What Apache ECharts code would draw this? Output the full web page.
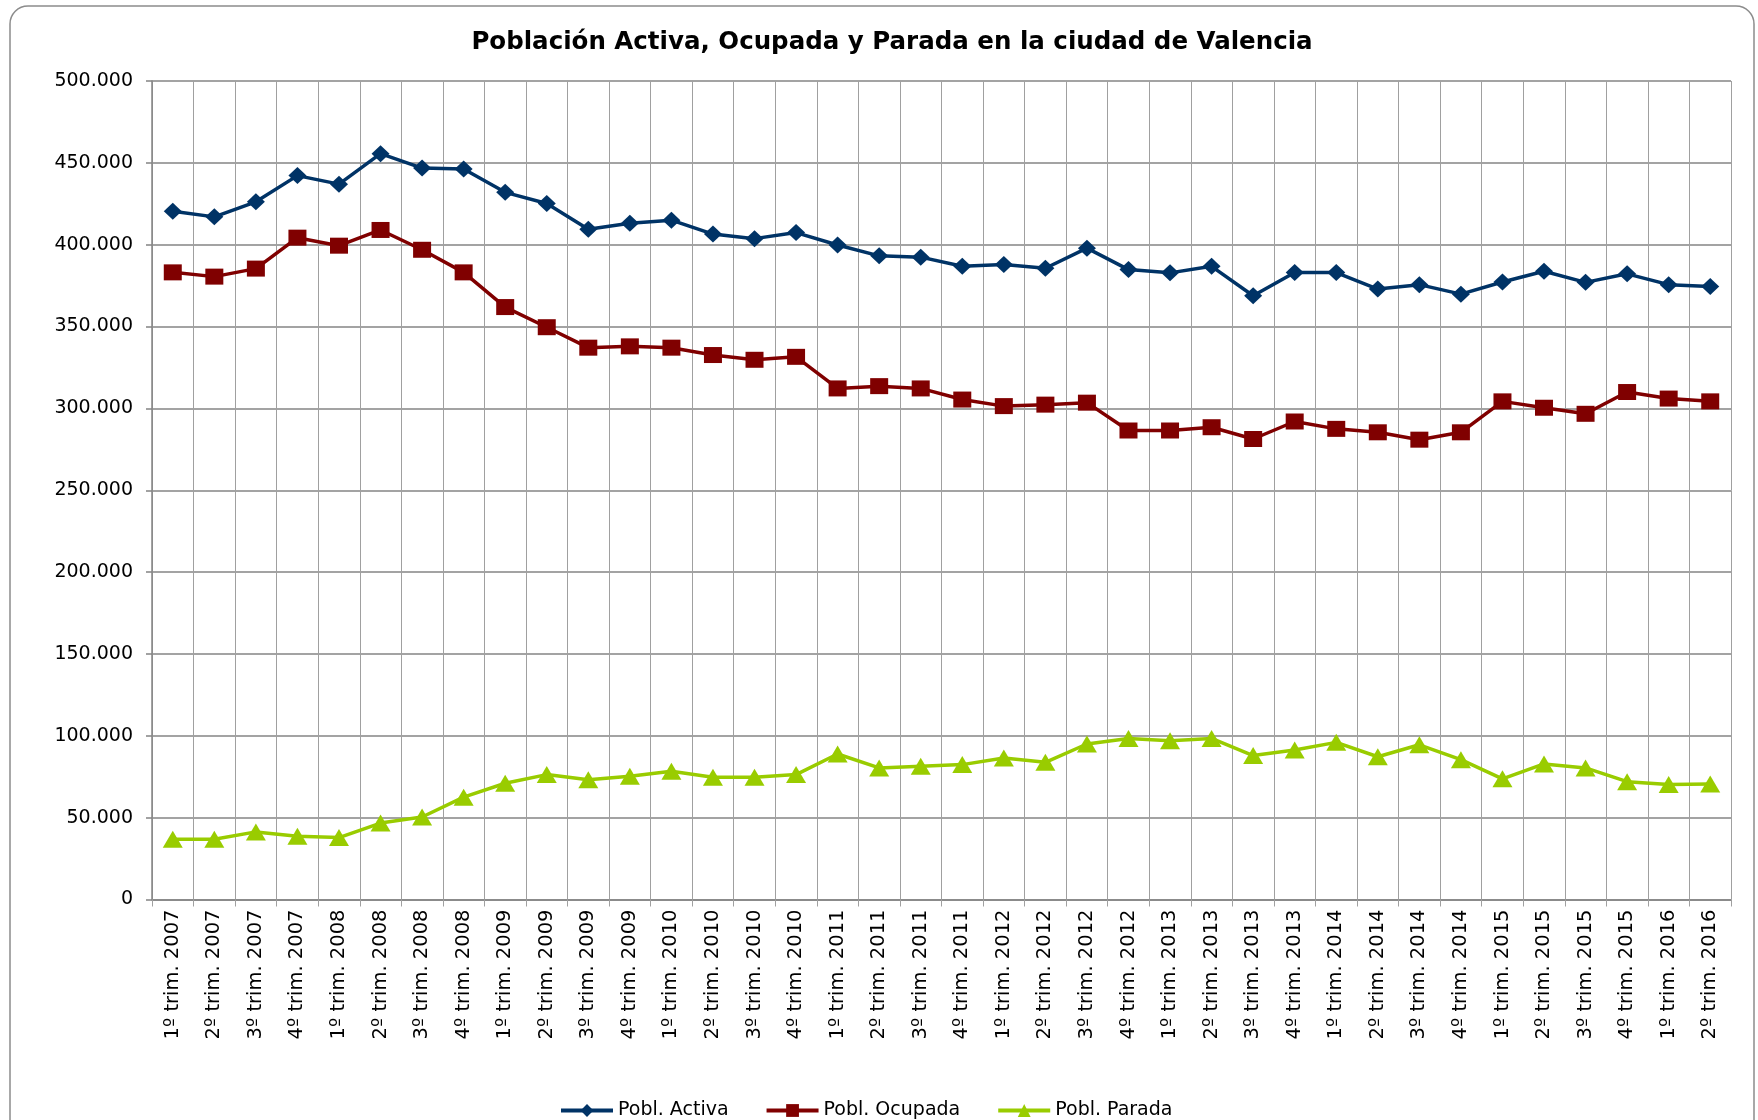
<!DOCTYPE html>
<html>
<head>
<meta charset="utf-8">
<script src="https://cdn.jsdelivr.net/npm/echarts@6/dist/echarts.min.js"></script>
<style>
html,body{margin:0;padding:0;background:#fff;}
#chart{width:1758px;height:1120px;}
</style>
</head>
<body>
<div id="chart"></div>
<script>
const categories = [
  "1º trim. 2007","2º trim. 2007","3º trim. 2007","4º trim. 2007",
  "1º trim. 2008","2º trim. 2008","3º trim. 2008","4º trim. 2008",
  "1º trim. 2009","2º trim. 2009","3º trim. 2009","4º trim. 2009",
  "1º trim. 2010","2º trim. 2010","3º trim. 2010","4º trim. 2010",
  "1º trim. 2011","2º trim. 2011","3º trim. 2011","4º trim. 2011",
  "1º trim. 2012","2º trim. 2012","3º trim. 2012","4º trim. 2012",
  "1º trim. 2013","2º trim. 2013","3º trim. 2013","4º trim. 2013",
  "1º trim. 2014","2º trim. 2014","3º trim. 2014","4º trim. 2014",
  "1º trim. 2015","2º trim. 2015","3º trim. 2015","4º trim. 2015",
  "1º trim. 2016","2º trim. 2016"
];
const poblActiva = [
  420500,417000,426200,442200,437000,455600,446800,446200,
  432000,425200,409400,413100,415000,406500,403700,407400,
  399800,393200,392400,386800,387900,385600,397900,384800,
  382800,386800,368800,383000,383000,372900,375600,369800,
  377200,383800,377000,382200,375600,374500
];
const poblOcupada = [
  383100,380500,385400,404300,399400,409000,396900,383100,
  361900,349600,337100,337900,337100,332600,329700,331500,
  312200,313600,312200,305400,301400,302300,303500,286500,
  286500,288500,281300,292000,287500,285400,280900,285400,
  304300,300400,296700,310000,306000,304300
];
const poblParada = [
  36800,36800,41300,38600,37800,46700,50400,62500,
  71000,76300,73100,75300,78300,74700,74700,76300,
  88900,80400,81400,82400,86500,83800,95000,98400,
  97000,98400,87900,91300,96000,87200,94500,85400,
  73700,82800,80400,72000,70200,70600
];
const yTicks = { min: 0, max: 500000, interval: 50000 };
const seriesNames = ["Pobl. Activa", "Pobl. Ocupada", "Pobl. Parada"];

const FONT = "DejaVu Sans";
const GRID_H = "#848484";
const GRID_V = "#a0a0a0";

function fmt(v){
  return String(v).replace(/\B(?=(\d{3})+(?!\d))/g, ".");
}

const chart = echarts.init(document.getElementById('chart'), null, {renderer:'canvas'});
chart.setOption({
  backgroundColor: '#ffffff',
  animation: false,
  graphic: [{
    type: 'rect',
    shape: { x: 10, y: 6, width: 1744, height: 1300, r: 18 },
    style: { fill: 'none', stroke: '#8c8c8c', lineWidth: 1.5 },
    silent: true, z: -1
  }],
  title: {
    text: 'Población Activa, Ocupada y Parada en la ciudad de Valencia',
    left: 887, textAlign: 'center', top: 25,
    textStyle: { fontFamily: FONT, fontWeight: 'bold', fontSize: 24.5, color: '#000' }
  },
  legend: {
    data: seriesNames,
    left: 554, top: 1096,
    itemWidth: 52, itemHeight: 16, itemGap: 36,
    lineStyle: { width: 4 },
    textStyle: { fontFamily: FONT, fontSize: 19, color: '#000' }
  },
  grid: { left: 152, right: 27, top: 81, bottom: 220.5, containLabel: false },
  xAxis: {
    type: 'category',
    data: categories,
    boundaryGap: true,
    axisLine: { show: true, lineStyle: { color: GRID_H, width: 1.5 } },
    axisTick: { show: true, length: 7, interval: 0, lineStyle: { color: GRID_V, width: 1 } },
    axisLabel: { interval: 0, rotate: 90, margin: 10, fontFamily: FONT, fontSize: 19.5, color: '#000' },
    splitLine: { show: true, interval: 0, lineStyle: { color: GRID_V, width: 1 } }
  },
  yAxis: {
    type: 'value',
    min: yTicks.min, max: yTicks.max, interval: yTicks.interval,
    axisLine: { show: true, lineStyle: { color: GRID_H, width: 1.5 } },
    axisTick: { show: true, length: 6, lineStyle: { color: GRID_H, width: 1.5 } },
    axisLabel: { margin: 19, fontFamily: FONT, fontSize: 19, color: '#000', formatter: fmt },
    splitLine: { show: true, lineStyle: { color: GRID_H, width: 1.5 } }
  },
  series: [
    {
      name: seriesNames[0], type: 'line', data: poblActiva,
      symbol: 'diamond', symbolSize: [18, 17],
      lineStyle: { color: '#003366', width: 3.5 },
      itemStyle: { color: '#003366' }, z: 4
    },
    {
      name: seriesNames[1], type: 'line', data: poblOcupada,
      symbol: 'rect', symbolSize: [18, 16],
      lineStyle: { color: '#800000', width: 3.5 },
      itemStyle: { color: '#800000' }, z: 3
    },
    {
      name: seriesNames[2], type: 'line', data: poblParada,
      symbol: 'triangle', symbolSize: [20, 17],
      lineStyle: { color: '#99cc00', width: 3.5 },
      itemStyle: { color: '#99cc00' }, z: 2
    }
  ]
});
</script>
</body>
</html>
